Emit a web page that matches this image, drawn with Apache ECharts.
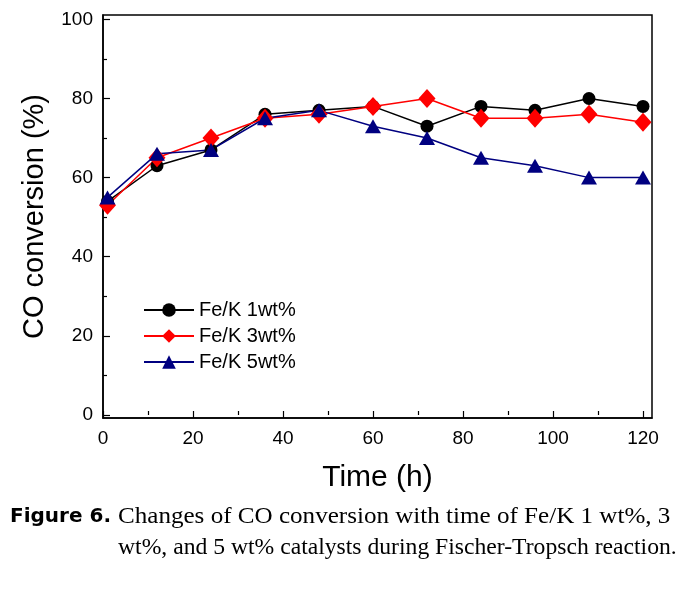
<!DOCTYPE html>
<html>
<head>
<meta charset="utf-8">
<script src="https://cdn.jsdelivr.net/npm/echarts@6/dist/echarts.min.js"></script>
<style>html,body{margin:0;padding:0;background:#fff;}#c{width:685px;height:590px;}</style>
</head>
<body>
<div id="c"></div>
<script>
const times = [1, 12, 24, 36, 48, 60, 72, 84, 96, 108, 120];
const fe1 = [54, 63, 67, 76, 77, 78, 73, 78, 77, 80, 78];
const fe3 = [53, 65, 70, 75, 76, 78, 80, 75, 75, 76, 74];
const fe5 = [55, 66, 67, 75, 77, 73, 70, 65, 63, 60, 60];
const seriesNames = ['Fe/K 1wt%', 'Fe/K 3wt%', 'Fe/K 5wt%'];
const xMajor = [0, 20, 40, 60, 80, 100, 120];
const xMinor = [10, 30, 50, 70, 90, 110];
const yMajor = [0, 20, 40, 60, 80, 100];
const yMinor = [10, 30, 50, 70, 90];
const xTitle = 'Time (h)';
const yTitle = 'CO conversion (%)';
const capLabel = 'Figure 6.';
const capLine1 = 'Changes of CO conversion with time of Fe/K 1 wt%, 3';
const capLine2 = 'wt%, and 5 wt% catalysts during Fischer-Tropsch reaction.';

const pair = (vals) => times.map((t, i) => [t, vals[i]]);
const chart = echarts.init(document.getElementById('c'), null, {renderer: 'canvas'});
const axFont = 'Arial, "Liberation Sans", sans-serif';
const X_MIN = 0, X_MAX = 122, Y_MIN = -0.76, Y_MAX = 101.1;

chart.setOption({
  animation: false,
  backgroundColor: '#fff',
  grid: {left: 103, right: 33, top: 15, bottom: 172, show: true, borderColor: '#000', borderWidth: 1.5, backgroundColor: 'transparent'},
  legend: {
    orient: 'vertical', left: 143, top: 300, padding: 0, itemWidth: 50, itemHeight: 17, itemGap: 6,
    textStyle: {fontSize: 20, fontFamily: axFont, color: '#000', padding: [0,0,0,0]},
    data: seriesNames
  },
  xAxis: [{
    type: 'value', min: X_MIN, max: X_MAX, position: 'bottom',
    name: xTitle, nameLocation: 'middle', nameGap: 45,
    nameTextStyle: {fontSize: 30, fontFamily: axFont, color: '#000'},
    axisLine: {show: true, onZero: false, lineStyle: {color: '#000', width: 1.5}},
    axisTick: {show: true, inside: true, length: 7, customValues: xMajor, lineStyle: {color: '#000', width: 1.2}},
    axisLabel: {show: true, customValues: xMajor, fontSize: 19, fontFamily: axFont, color: '#000', margin: 11},
    splitLine: {show: false}
  }, {
    type: 'value', min: X_MIN, max: X_MAX, position: 'bottom', offset: 0,
    axisLine: {show: false},
    axisTick: {show: true, inside: true, length: 4, customValues: xMinor, lineStyle: {color: '#000', width: 1.2}},
    axisLabel: {show: false},
    splitLine: {show: false}
  }],
  yAxis: [{
    type: 'value', min: Y_MIN, max: Y_MAX, position: 'left',
    name: yTitle, nameLocation: 'middle', nameGap: 54, nameRotate: 90,
    nameTextStyle: {fontSize: 29, fontFamily: axFont, color: '#000'},
    axisLine: {show: true, onZero: false, lineStyle: {color: '#000', width: 1.5}},
    axisTick: {show: true, inside: true, length: 7, customValues: yMajor, lineStyle: {color: '#000', width: 1.2}},
    axisLabel: {show: true, customValues: yMajor, fontSize: 19, fontFamily: axFont, color: '#000', margin: 10},
    splitLine: {show: false}
  }, {
    type: 'value', min: Y_MIN, max: Y_MAX, position: 'left', offset: 0,
    axisLine: {show: false},
    axisTick: {show: true, inside: true, length: 4, customValues: yMinor, lineStyle: {color: '#000', width: 1.2}},
    axisLabel: {show: false},
    splitLine: {show: false}
  }],
  series: [
    {name: seriesNames[0], type: 'line', data: pair(fe1), symbol: 'circle', symbolSize: 13,
     lineStyle: {color: '#000', width: 1.5}, itemStyle: {color: '#000'}},
    {name: seriesNames[1], type: 'line', data: pair(fe3), symbol: 'diamond', symbolSize: [17, 19],
     lineStyle: {color: '#ff0000', width: 1.5}, itemStyle: {color: '#ff0000'}},
    {name: seriesNames[2], type: 'line', data: pair(fe5), symbol: 'triangle', symbolSize: [16, 14],
     lineStyle: {color: '#000080', width: 1.5}, itemStyle: {color: '#000080'}}
  ],
  graphic: [
    {type: 'text', left: 10, top: 507, style: {text: capLabel, font: 'bold 20px "DejaVu Sans", sans-serif', fill: '#000'}},
    {type: 'text', x: 118, y: 505, scaleX: 1.045, style: {text: capLine1, font: '24px "Liberation Serif", serif', fill: '#000'}},
    {type: 'text', x: 118, y: 536, scaleX: 0.985, style: {text: capLine2, font: '24px "Liberation Serif", serif', fill: '#000'}}
  ]
});
</script>
</body>
</html>
